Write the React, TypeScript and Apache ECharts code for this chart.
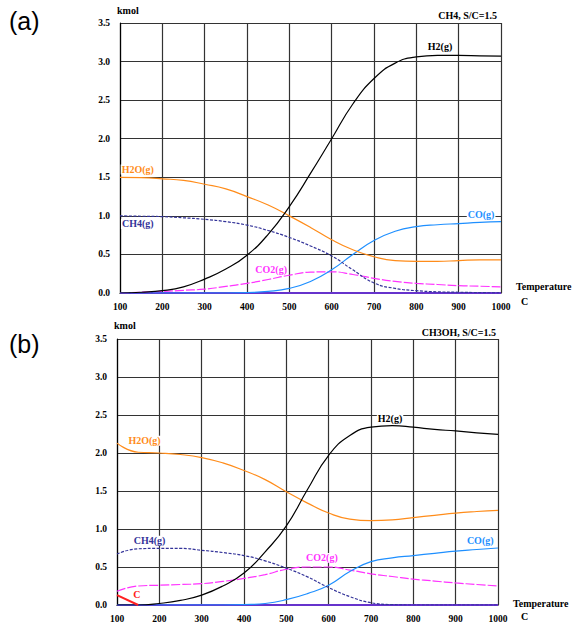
import React, { useEffect, useRef } from "react";
import * as echarts from "echarts";

// Temperatures (C)
const tA = [100, 150, 200, 250, 300, 350, 400, 450, 500, 550, 600, 650, 700, 750, 800, 850, 900, 950, 1000];
// Panel (a): CH4, S/C=1.5
const aH2 = [0, 0.01, 0.03, 0.08, 0.18, 0.31, 0.49, 0.76, 1.12, 1.55, 2.0, 2.45, 2.78, 2.98, 3.06, 3.08, 3.08, 3.075, 3.07];
const aH2O = [1.5, 1.495, 1.48, 1.46, 1.41, 1.35, 1.25, 1.14, 1.0, 0.85, 0.69, 0.56, 0.47, 0.42, 0.41, 0.41, 0.42, 0.43, 0.43];
const aCH4 = [1.0, 0.995, 0.99, 0.975, 0.955, 0.925, 0.88, 0.81, 0.72, 0.61, 0.48, 0.3, 0.13, 0.06, 0.03, 0.015, 0.01, 0.005, 0.0];
const aCO = [0, 0, 0, 0, 0, 0, 0.005, 0.02, 0.06, 0.15, 0.3, 0.5, 0.68, 0.8, 0.86, 0.885, 0.9, 0.915, 0.925];
const aCO2 = [0, 0.01, 0.02, 0.035, 0.05, 0.085, 0.125, 0.175, 0.23, 0.27, 0.275, 0.24, 0.19, 0.15, 0.125, 0.11, 0.095, 0.088, 0.08];
const aZero = [0, 0, 0, 0, 0, 0, 0, 0, 0, 0, 0, 0, 0, 0, 0, 0, 0, 0, 0];

// Panel (b): CH3OH, S/C=1.5
const bH2 = [0, 0.0, 0.02, 0.06, 0.13, 0.25, 0.42, 0.7, 1.04, 1.52, 1.97, 2.23, 2.34, 2.36, 2.34, 2.31, 2.29, 2.265, 2.245];
const bH2O = [2.13, 2.01, 2.0, 1.98, 1.94, 1.87, 1.77, 1.65, 1.49, 1.34, 1.21, 1.13, 1.11, 1.12, 1.15, 1.18, 1.21, 1.23, 1.245];
const bCH4 = [0.67, 0.74, 0.745, 0.745, 0.72, 0.69, 0.65, 0.58, 0.485, 0.37, 0.23, 0.11, 0.03, 0.005, 0.0, 0, 0, 0, 0];
const bCO = [0, 0, 0, 0, 0, 0, 0.005, 0.02, 0.07, 0.15, 0.26, 0.44, 0.57, 0.62, 0.65, 0.68, 0.71, 0.73, 0.75];
const bCO2 = [0.18, 0.25, 0.26, 0.27, 0.28, 0.31, 0.35, 0.4, 0.47, 0.5, 0.5, 0.46, 0.41, 0.375, 0.34, 0.315, 0.29, 0.27, 0.25];
const cT = [100, 150];
const bC = [0.13, 0];

const BLACK = "#000000";
const ORANGE = "#ff8c1a";
const NAVY = "#333399";
const BLUE = "#1e8fff";
const MAGENTA = "#ff33ff";
const PURPLE = "#6633cc";
const RED = "#ff2020";

const serif = "Liberation Serif";

const pairs = (xs: number[], ys: number[]) => xs.map((x, i) => [x, ys[i]]);

const lbl = (text: string, color: string, coord: number[]) => ({
  symbol: "rect",
  symbolSize: 0,
  silent: true,
  data: [
    {
      coord,
      label: {
        show: true,
        position: "inside",
        formatter: text,
        color,
        fontFamily: serif,
        fontWeight: "bold",
        fontSize: 10,
        backgroundColor: "#ffffff",
        padding: [0, 1],
      },
    },
  ],
});

function line(name: string, idx: number, xs: number[], ys: number[], color: string, type: any, width: number, label?: any, z = 3) {
  return {
    name,
    type: "line",
    xAxisIndex: idx,
    yAxisIndex: idx,
    data: pairs(xs, ys),
    smooth: 0.5,
    symbol: "none",
    z,
    lineStyle: { color, width, type },
    markPoint: label,
  };
}

export default function App() {
  const ref = useRef<HTMLDivElement>(null);
  useEffect(() => {
    if (!ref.current) return;
    const chart = echarts.init(ref.current, undefined, { renderer: "svg" });
    const gridDefs = [
      { left: 120, top: 23, width: 381, height: 270 },
      { left: 117, top: 339, width: 381, height: 269 },
    ];
    const xAxisDef = (i: number) => ({
      type: "value",
      gridIndex: i,
      min: 100,
      max: 1000,
      interval: 100,
      axisLine: { show: true, lineStyle: { color: "#000", width: 1.2 } },
      axisTick: { show: false },
      axisLabel: {
        color: "#000",
        fontFamily: serif,
        fontWeight: "bold",
        fontSize: 9.5,
        margin: 9,
        formatter: (v: number) => String(v),
      },
      splitLine: { show: true, lineStyle: { color: "#333", width: 1.2 } },
    });
    const yAxisDef = (i: number) => ({
      type: "value",
      gridIndex: i,
      min: 0,
      max: 3.5,
      interval: 0.5,
      axisLine: { show: true, lineStyle: { color: "#000", width: 1.2 } },
      axisTick: { show: false },
      axisLabel: {
        color: "#000",
        fontFamily: serif,
        fontWeight: "bold",
        fontSize: 9.5,
        margin: 10,
        formatter: (v: number) => v.toFixed(1),
      },
      splitLine: { show: true, lineStyle: { color: "#333", width: 1.2 } },
    });
    const txt = (text: string, left: number, top: number) => ({
      type: "text",
      left,
      top,
      style: {
        text,
        fill: "#000",
        fontFamily: serif,
        fontWeight: "bold",
        fontSize: 10,
      },
    });
    const option: any = {
      animation: false,
      backgroundColor: "#ffffff",
      textStyle: { fontFamily: serif },
      grid: gridDefs,
      xAxis: [xAxisDef(0), xAxisDef(1)],
      yAxis: [yAxisDef(0), yAxisDef(1)],
      graphic: [
        { type: "text", left: 9, top: 8, style: { text: "(a)", fill: "#000", fontFamily: "Liberation Sans", fontSize: 25 } },
        { type: "text", left: 9, top: 331, style: { text: "(b)", fill: "#000", fontFamily: "Liberation Sans", fontSize: 25 } },
        txt("kmol", 117, 5),
        txt("kmol", 114, 320),
        { type: "text", right: 82, top: 10, style: { text: "CH4, S/C=1.5", fill: "#000", fontFamily: serif, fontWeight: "bold", fontSize: 10 } },
        { type: "text", right: 83, top: 327, style: { text: "CH3OH, S/C=1.5", fill: "#000", fontFamily: serif, fontWeight: "bold", fontSize: 10 } },
        txt("Temperature", 516, 281),
        txt("C", 521, 296),
        txt("Temperature", 513, 598),
        txt("C", 521, 611),
      ],
      series: [
        line("a0", 0, tA, aZero, PURPLE, "solid", 2.2, undefined, 2),
        line("aCO2", 0, tA, aCO2, MAGENTA, [9, 2], 1.2, lbl("CO2(g)", MAGENTA, [457, 0.31])),
        line("aCO", 0, tA, aCO, BLUE, "solid", 1.2, lbl("CO(g)", BLUE, [953, 1.02])),
        line("aCH4", 0, tA, aCH4, NAVY, [3, 1.5], 1.2, lbl("CH4(g)", NAVY, [142, 0.895])),
        line("aH2O", 0, tA, aH2O, ORANGE, "solid", 1.2, lbl("H2O(g)", ORANGE, [142, 1.6])),
        line("aH2", 0, tA, aH2, BLACK, "solid", 1.2, lbl("H2(g)", BLACK, [856, 3.19])),

        line("b0", 1, tA, aZero, PURPLE, "solid", 2.2, undefined, 2),
        line("bCO2", 1, tA, bCO2, MAGENTA, [9, 2], 1.2, lbl("CO2(g)", MAGENTA, [584, 0.62])),
        line("bCO", 1, tA, bCO, BLUE, "solid", 1.2, lbl("CO(g)", BLUE, [958, 0.845])),
        line("bCH4", 1, tA, bCH4, NAVY, [3, 1.5], 1.2, lbl("CH4(g)", NAVY, [177, 0.845])),
        line("bH2O", 1, tA, bH2O, ORANGE, "solid", 1.2, lbl("H2O(g)", ORANGE, [165, 2.16])),
        line("bH2", 1, tA, bH2, BLACK, "solid", 1.2, lbl("H2(g)", BLACK, [745, 2.46])),
        {
          ...line("bC", 1, cT, bC, RED, "solid", 2, lbl("C", RED, [147, 0.14]), 4),
          smooth: false,
        },
      ],
    };
    chart.setOption(option);
    return () => chart.dispose();
  }, []);
  return (
    <div
      ref={ref}
      style={{ position: "fixed", left: 0, top: 0, width: 579, height: 624, background: "#fff" }}
    />
  );
}
